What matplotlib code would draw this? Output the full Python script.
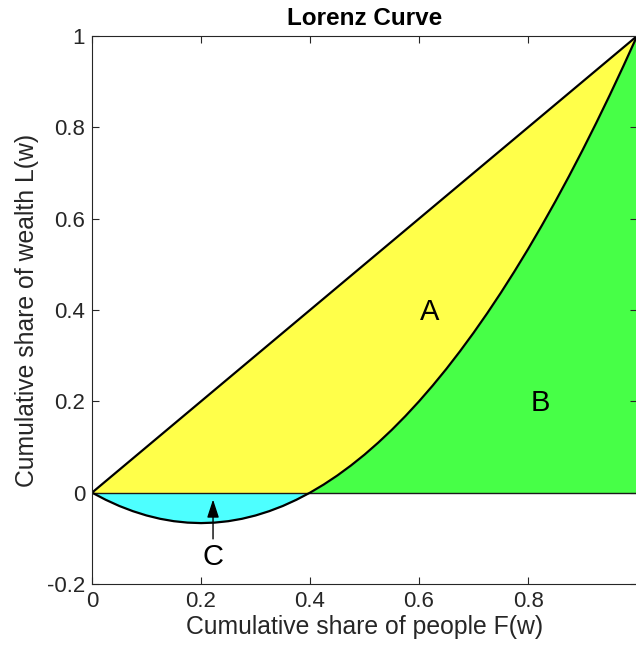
import numpy as np
import matplotlib
matplotlib.use('Agg')
import matplotlib.pyplot as plt

plt.rcParams['font.family'] = ['Liberation Sans', 'DejaVu Sans']

# Lorenz curve
people = [0.0, 0.025, 0.05, 0.075, 0.1, 0.125, 0.15, 0.175, 0.2, 0.225,
          0.25, 0.275, 0.3, 0.325, 0.35, 0.375, 0.4, 0.425, 0.45, 0.475,
          0.5, 0.525, 0.55, 0.575, 0.6, 0.625, 0.65, 0.675, 0.7, 0.725,
          0.75, 0.775, 0.8, 0.825, 0.85, 0.875, 0.9, 0.925, 0.95, 0.975, 1.0]
wealth = [0.0, -0.0156, -0.0292, -0.0406, -0.05, -0.0573, -0.0625, -0.0656, -0.0667, -0.0656,
          -0.0625, -0.0573, -0.05, -0.0406, -0.0292, -0.0156, 0.0, 0.0177, 0.0375, 0.0594,
          0.0833, 0.1094, 0.1375, 0.1677, 0.2, 0.2344, 0.2708, 0.3094, 0.35, 0.3927,
          0.4375, 0.4844, 0.5333, 0.5844, 0.6375, 0.6927, 0.75, 0.8094, 0.8708, 0.9344, 1.0]

xticks = [0, 0.2, 0.4, 0.6, 0.8, 1]
xtick_labels = ['0', '0.2', '0.4', '0.6', '0.8', '']
yticks = [-0.2, 0, 0.2, 0.4, 0.6, 0.8, 1]
ytick_labels = ['-0.2', '0', '0.2', '0.4', '0.6', '0.8', '1']

F = np.array(people)
L = np.array(wealth)
Lpos = np.maximum(L, 0)

fig = plt.figure(figsize=(6.36, 6.53), dpi=100)
ax = fig.add_axes([0.1447, 0.1057, 0.857, 0.8392])

ax.fill_between(F, F, Lpos, color='#ffff4a', lw=0)
ax.fill_between(F, Lpos, 0, where=F >= 0.4, color='#47ff47', lw=0)
ax.fill_between(F, L, 0, where=F <= 0.4, color='#4dffff', lw=0)

ax.plot([0, 1], [0, 0], color='#1a1a1a', lw=1.0)
ax.plot(F, F, color='black', lw=1.6)
ax.plot(F, L, color='black', lw=1.6)

ax.text(0.62, 0.395, 'A', fontsize=21, ha='center', va='center')
ax.text(0.822, 0.197, 'B', fontsize=21, ha='center', va='center')
ax.annotate('C', xy=(0.222, -0.015), xytext=(0.222, -0.141),
            fontsize=21, ha='center', va='center',
            arrowprops=dict(arrowstyle='-|>,head_length=0.55,head_width=0.18',
                            color='black', lw=1.0,
                            mutation_scale=20, shrinkA=1, shrinkB=0))

ax.set_xlim(0, 1)
ax.set_ylim(-0.2, 1)
ax.set_xticks(xticks)
ax.set_xticklabels(xtick_labels)
ax.set_yticks(yticks)
ax.set_yticklabels(ytick_labels)
ax.tick_params(direction='in', length=5, top=True, right=True,
               labelsize=16, colors='#262626', width=0.8, pad=5)
for s in ax.spines.values():
    s.set_color('#262626')
    s.set_linewidth(0.8)

ax.set_xlabel('Cumulative share of people F(w)', fontsize=17.8, color='#262626', labelpad=2)
ax.set_ylabel('Cumulative share of wealth L(w)', fontsize=17.8, color='#262626', labelpad=6)
ax.set_title('Lorenz Curve', fontsize=17.5, fontweight='bold', pad=8)

fig.savefig('out.png', dpi=100)
